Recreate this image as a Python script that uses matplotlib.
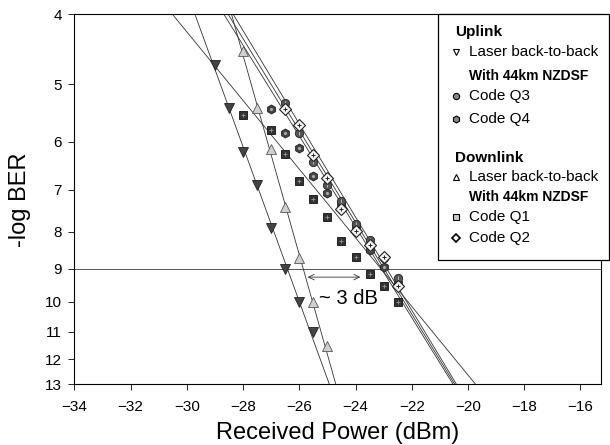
import matplotlib.pyplot as plt
from matplotlib.ticker import FixedLocator, FixedFormatter, NullLocator
from matplotlib.lines import Line2D
from matplotlib.patches import Rectangle

plt.rcParams['font.family'] = ['Liberation Sans', 'DejaVu Sans']

# measured points: received power (dBm) and -log(BER)
up_b2b_x = [-29.0, -28.5, -28.0, -27.5, -27.0, -26.5, -26.0, -25.5]
up_b2b_y = [4.7, 5.4, 6.2, 6.9, 7.9, 9.0, 10.0, 11.0]

dn_b2b_x = [-28.0, -27.5, -27.0, -26.5, -26.0, -25.5, -25.0]
dn_b2b_y = [4.5, 5.4, 6.15, 7.4, 8.7, 10.0, 11.5]

q1_x = [-28.0, -27.0, -26.5, -26.0, -25.5, -25.0, -24.5, -24.0, -23.5, -23.0, -22.5]
q1_y = [5.52, 5.78, 6.25, 6.81, 7.21, 7.62, 8.24, 8.68, 9.15, 9.5, 10.0]

q2_x = [-26.5, -26.0, -25.5, -25.0, -24.5, -24.0, -23.5, -23.0, -22.5]
q2_y = [5.41, 5.69, 6.27, 6.74, 7.44, 7.97, 8.34, 8.68, 9.5]

q3_x = [-26.5, -26.0, -25.5, -25.0, -24.5, -24.0, -23.5, -23.0, -22.5]
q3_y = [5.31, 5.83, 6.4, 6.9, 7.25, 7.8, 8.2, 8.7, 9.28]

q4_x = [-27.0, -26.5, -26.0, -25.5, -25.0, -24.5, -24.0, -23.5, -23.0, -22.5]
q4_y = [5.41, 5.83, 6.13, 6.69, 7.06, 7.32, 7.9, 8.48, 8.96, 9.4]

# fitted lines: power at -logBER = 4 and at 13
fit_y = [4, 13]
fit_up_b2b = [-29.71, -24.93]
fit_dn_b2b = [-28.41, -24.70]
fit_q1 = [-30.51, -19.73]
fit_q2 = [-28.68, -20.53]
fit_q3 = [-28.53, -20.47]
fit_q4 = [-28.35, -20.41]

y_ticks = [4, 5, 6, 7, 8, 9, 10, 11, 12, 13]
x_ticks = [-34, -32, -30, -28, -26, -24, -22, -20, -18, -16]

fig = plt.figure(figsize=(6.1, 4.45), dpi=100)
ax = fig.add_axes([0.1218, 0.1364, 0.863, 0.8315])

lc = '#333333'
for fx in [fit_up_b2b, fit_dn_b2b, fit_q1, fit_q2, fit_q3, fit_q4]:
    ax.plot(fx, fit_y, color=lc, lw=0.6, zorder=2)

ax.axhline(9, color='#555555', lw=0.7, zorder=1)

ax.plot(up_b2b_x, up_b2b_y, 'v', ms=6.5, mfc='#444444', mec='#222222', mew=0.6, ls='none', zorder=3)
ax.plot(dn_b2b_x, dn_b2b_y, '^', ms=7, mfc='#d0d0d0', mec='#555555', mew=0.6, ls='none', zorder=3)
ax.plot(q1_x, q1_y, 's', ms=6, mfc='#333333', mec='#111111', mew=0.6, ls='none', zorder=3)
ax.plot(q1_x, q1_y, '+', ms=3, mec='#999999', mew=0.6, ls='none', zorder=4)
ax.plot(q4_x, q4_y, 'h', ms=6.5, mfc='#444444', mec='#222222', mew=0.6, ls='none', zorder=3)
ax.plot(q4_x, q4_y, '.', ms=2.5, mfc='#aaaaaa', mec='#aaaaaa', ls='none', zorder=4)
ax.plot(q3_x, q3_y, 'o', ms=6, mfc='#555555', mec='#222222', mew=0.6, ls='none', zorder=3)
ax.plot(q3_x, q3_y, '|', ms=3.5, mec='#bbbbbb', mew=0.7, ls='none', zorder=4)
ax.plot(q2_x, q2_y, 'D', ms=6, mfc='#f4f4f4', mec='#222222', mew=0.8, ls='none', zorder=5)
ax.plot(q2_x, q2_y, '+', ms=3, mec='#222222', mew=0.7, ls='none', zorder=6)

ax.annotate('', xy=(-23.73, 9.24), xytext=(-25.8, 9.24),
            arrowprops=dict(arrowstyle='<->', color='#333333', lw=0.6))
ax.text(-25.3, 9.88, '~ 3 dB', fontsize=14.5, va='center', ha='left')

ax.set_yscale('log')
ax.set_ylim(13, 4)
ax.set_xlim(-34, -15.28)
ax.yaxis.set_major_locator(FixedLocator(y_ticks))
ax.yaxis.set_major_formatter(FixedFormatter([str(t) for t in y_ticks]))
ax.yaxis.set_minor_locator(NullLocator())
ax.set_xticks(x_ticks)
ax.tick_params(labelsize=11, length=4, width=0.6, direction='out')
ax.tick_params(axis='x', pad=7)
ax.tick_params(axis='y', pad=5)
for sp in ax.spines.values():
    sp.set_linewidth(0.8)

ax.set_xlabel('Received Power (dBm)', fontsize=17, labelpad=6)
ax.set_ylabel('-log BER', fontsize=17, labelpad=10)

# hand-drawn legend box (extends past the right spine)
W, H = 610.0, 445.0
def fx_(px):
    return px / W
def fy_(py):
    return 1 - py / H

fig.add_artist(Rectangle((fx_(438.3), fy_(260)), fx_(609) - fx_(438.3), fy_(14) - fy_(260),
                         transform=fig.transFigure, fc='white', ec='black', lw=0.9, zorder=10))

mx, tx = 456, 469.3
def head(py, txt):
    fig.text(fx_(455), fy_(py), txt, fontsize=11, fontweight='bold', va='center', ha='left', zorder=11)
def sub(py):
    fig.text(fx_(tx), fy_(py), 'With 44km NZDSF', fontsize=10, fontweight='bold', va='center', ha='left', zorder=11)
def item(py, txt, **kw):
    fig.add_artist(Line2D([fx_(mx)], [fy_(py)], transform=fig.transFigure, ls='none', zorder=11, **kw))
    fig.text(fx_(tx), fy_(py), txt, fontsize=11, va='center', ha='left', zorder=11)

head(32.3, 'Uplink')
item(52.3, 'Laser back-to-back', marker='v', ms=5, mfc='white', mec='black', mew=0.8)
sub(76)
item(95.7, 'Code Q3', marker='o', ms=4.5, mfc='#888888', mec='black', mew=0.8)
item(119, 'Code Q4', marker='h', ms=5, mfc='#888888', mec='black', mew=0.8)
head(157.7, 'Downlink')
item(176.7, 'Laser back-to-back', marker='^', ms=5, mfc='white', mec='black', mew=0.8)
sub(196.7)
item(216.7, 'Code Q1', marker='s', ms=4.5, mfc='#cccccc', mec='black', mew=0.8)
item(238, 'Code Q2', marker='D', ms=4.5, mfc='white', mec='black', mew=1.2)

fig.savefig('out.png', dpi=100)
